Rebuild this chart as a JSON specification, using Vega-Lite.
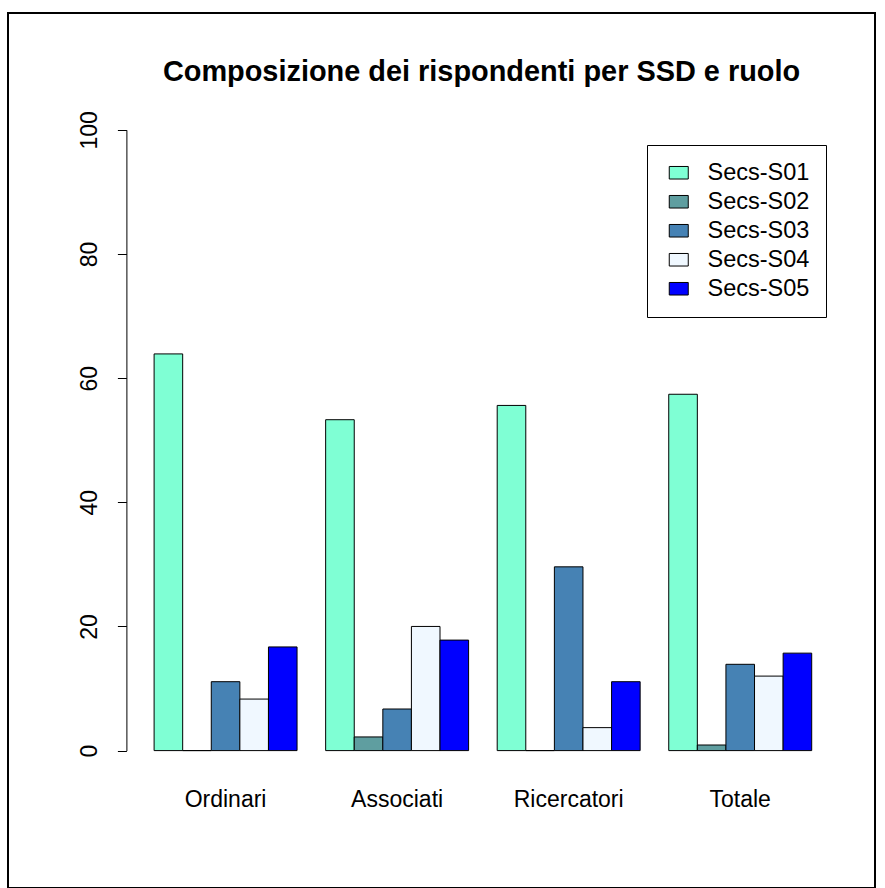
{
  "$schema": "https://vega.github.io/schema/vega-lite/v6.json",
  "autosize": {"type": "none"},
  "padding": {"left": 8, "top": 13, "right": 10, "bottom": 0},
  "width": 867,
  "height": 875,
  "background": "white",
  "title": {
    "text": "Composizione dei rispondenti per SSD e ruolo",
    "font": "Liberation Sans",
    "fontSize": 28.9,
    "fontWeight": "bold",
    "color": "black",
    "anchor": "middle",
    "frame": "group",
    "orient": "top",
    "offset": 0,
    "baseline": "alphabetic",
    "dx": 40,
    "dy": 96.5
  },
  "data": {
    "values": [
      {"ruolo": "Ordinari", "ssd": "Secs-S01", "pct": 63.9},
      {"ruolo": "Ordinari", "ssd": "Secs-S02", "pct": 0},
      {"ruolo": "Ordinari", "ssd": "Secs-S03", "pct": 11.1},
      {"ruolo": "Ordinari", "ssd": "Secs-S04", "pct": 8.3},
      {"ruolo": "Ordinari", "ssd": "Secs-S05", "pct": 16.7},
      {"ruolo": "Associati", "ssd": "Secs-S01", "pct": 53.3},
      {"ruolo": "Associati", "ssd": "Secs-S02", "pct": 2.2},
      {"ruolo": "Associati", "ssd": "Secs-S03", "pct": 6.7},
      {"ruolo": "Associati", "ssd": "Secs-S04", "pct": 20.0},
      {"ruolo": "Associati", "ssd": "Secs-S05", "pct": 17.8},
      {"ruolo": "Ricercatori", "ssd": "Secs-S01", "pct": 55.6},
      {"ruolo": "Ricercatori", "ssd": "Secs-S02", "pct": 0},
      {"ruolo": "Ricercatori", "ssd": "Secs-S03", "pct": 29.6},
      {"ruolo": "Ricercatori", "ssd": "Secs-S04", "pct": 3.7},
      {"ruolo": "Ricercatori", "ssd": "Secs-S05", "pct": 11.1},
      {"ruolo": "Totale", "ssd": "Secs-S01", "pct": 57.4},
      {"ruolo": "Totale", "ssd": "Secs-S02", "pct": 0.9},
      {"ruolo": "Totale", "ssd": "Secs-S03", "pct": 13.9},
      {"ruolo": "Totale", "ssd": "Secs-S04", "pct": 12.0},
      {"ruolo": "Totale", "ssd": "Secs-S05", "pct": 15.7}
    ]
  },
  "mark": {"type": "bar", "stroke": "black", "strokeWidth": 1, "opacity": 1},
  "encoding": {
    "x": {
      "field": "ruolo",
      "type": "nominal",
      "sort": ["Ordinari", "Associati", "Ricercatori", "Totale"],
      "scale": {"range": [131.8, 818.0], "paddingInner": 0.16667, "paddingOuter": 0.08333},
      "axis": {
        "title": null,
        "orient": "bottom",
        "offset": -81.3,
        "domain": false,
        "ticks": false,
        "tickSize": 0,
        "labelPadding": 0,
        "labelAngle": 0,
        "labelAlign": "center",
        "labelBaseline": "alphabetic",
        "labelFont": "Liberation Sans",
        "labelFontSize": 23,
        "labelColor": "black"
      }
    },
    "xOffset": {
      "field": "ssd",
      "type": "nominal",
      "scale": {"paddingInner": 0, "paddingOuter": 0}
    },
    "y": {
      "field": "pct",
      "type": "quantitative",
      "scale": {"domain": [0, 100], "range": [737.6, 116.8], "nice": false, "zero": true},
      "axis": {
        "title": null,
        "orient": "left",
        "offset": -118.4,
        "values": [0, 20, 40, 60, 80, 100],
        "grid": false,
        "domainColor": "black",
        "domainWidth": 1,
        "tickColor": "black",
        "tickWidth": 1,
        "tickSize": 9,
        "labelPadding": 21.4,
        "labelAngle": 270,
        "labelAlign": "center",
        "labelBaseline": "alphabetic",
        "labelFont": "Liberation Sans",
        "labelFontSize": 23,
        "labelColor": "black"
      }
    },
    "color": {
      "field": "ssd",
      "type": "nominal",
      "scale": {
        "domain": ["Secs-S01", "Secs-S02", "Secs-S03", "Secs-S04", "Secs-S05"],
        "range": ["#7FFFD4", "#5F9EA0", "#4682B4", "#F0F8FF", "#0000FF"]
      },
      "legend": {
        "title": null,
        "orient": "none",
        "legendX": 639,
        "legendY": 132,
        "padding": 16,
        "strokeColor": "black",
        "fillColor": "white",
        "cornerRadius": 0,
        "rowPadding": 4,
        "symbolType": "M-1,-0.66H1V0.66H-1Z",
        "symbolSize": 361,
        "symbolStrokeColor": "black",
        "symbolStrokeWidth": 1,
        "symbolOpacity": 1,
        "symbolOffset": 4,
        "labelOffset": 17,
        "labelFont": "Liberation Sans",
        "labelFontSize": 23.5,
        "labelColor": "black",
        "labelBaseline": "middle"
      }
    }
  },
  "config": {
    "view": {"stroke": "black", "strokeWidth": 2, "fill": "white"},
    "legend": {"strokeWidth": 1}
  }
}
